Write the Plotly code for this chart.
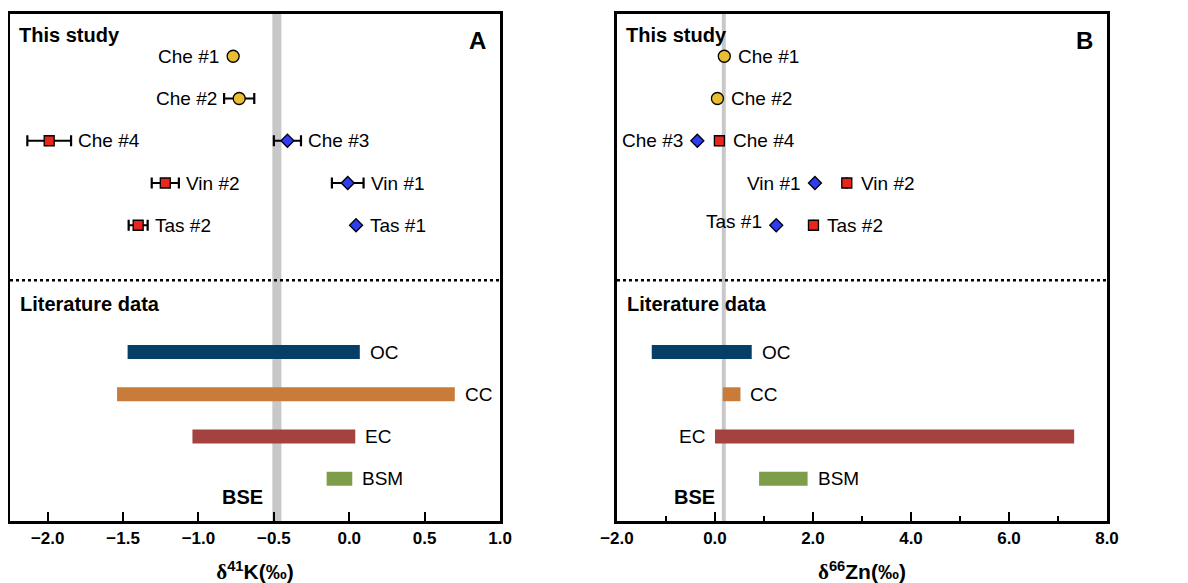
import plotly.graph_objects as go

# ---------------- data ----------------
samples = ["Che #1", "Che #2", "Che #3", "Che #4", "Vin #1", "Vin #2", "Tas #1", "Tas #2"]
sample_rows = [1, 2, 3, 3, 4, 4, 5, 5]
sample_type = ["circle", "circle", "diamond", "square", "diamond", "square", "diamond", "square"]

# delta41K (permil) and 2SD
k_values = [-0.77, -0.73, -0.41, -1.99, -0.01, -1.22, 0.045, -1.40]
k_errors = [0.0, 0.10, 0.09, 0.145, 0.105, 0.09, 0.0, 0.063]
k_label_side = ["left", "left", "right", "right", "right", "right", "right", "right"]

# delta66Zn (permil)
zn_values = [0.19, 0.05, -0.36, 0.09, 2.04, 2.69, 1.25, 2.01]
zn_errors = [0, 0, 0, 0, 0, 0, 0, 0]
zn_label_side = ["right", "right", "left", "right", "left", "right", "left", "right"]

# literature ranges
lit_groups = ["OC", "CC", "EC", "BSM"]
lit_rows = [8, 9, 10, 11]
k_lit_min = [-1.47, -1.54, -1.04, -0.15]
k_lit_max = [0.07, 0.70, 0.04, 0.02]
zn_lit_min = [-1.29, 0.16, 0.00, 0.90]
zn_lit_max = [0.75, 0.52, 7.33, 1.89]
k_lit_label_side = ["right", "right", "right", "right"]
zn_lit_label_side = ["right", "right", "left", "right"]

# bulk silicate Earth
bse_k, bse_k_err = -0.48, 0.03
bse_zn, bse_zn_err = 0.18, 0.04

divider_row = 6.3

# ---------------- style ----------------
FONT = "Liberation Sans, Arial, sans-serif"
marker_style = {
    "circle": dict(symbol="circle", size=12, color="#E9BE33"),
    "diamond": dict(symbol="diamond", size=10, color="#2E3DF0"),
    "square": dict(symbol="square", size=10, color="#E8261C"),
}
lit_colors = ["#053F68", "#C97B3A", "#A3423F", "#7D9D49"]

fig = go.Figure()
annotations = []
shapes = []


def add_panel(xref, yref, values, errors, sides, lmin, lmax, lsides, bse, bse_err, letter,
              bse_shift):
    for typ in ["circle", "diamond", "square"]:
        idx = [i for i, t in enumerate(sample_type) if t == typ]
        ms = marker_style[typ]
        fig.add_trace(go.Scatter(
            x=[values[i] for i in idx],
            y=[sample_rows[i] for i in idx],
            mode="markers",
            marker=dict(symbol=ms["symbol"], size=ms["size"], color=ms["color"],
                        line=dict(color="black", width=1.3)),
            error_x=dict(type="data", array=[errors[i] for i in idx], visible=True,
                         color="black", thickness=2.2, width=5.5),
            xaxis=xref, yaxis=yref, showlegend=False, hoverinfo="x+text",
            text=[samples[i] for i in idx],
        ))
    for i, name in enumerate(samples):
        sgn = 1 if sides[i] == "right" else -1
        gap = 5 if errors[i] > 0 else 12
        yshift = 4 if (letter == "B" and name == "Tas #1") else 0
        annotations.append(dict(
            x=values[i] + sgn * errors[i], y=sample_rows[i],
            xref=xref, yref=yref, text=name, showarrow=False,
            xanchor="left" if sgn > 0 else "right", yanchor="middle",
            xshift=sgn * gap, yshift=yshift,
            font=dict(family=FONT, size=19, color="black"),
        ))
    for j, g in enumerate(lit_groups):
        fig.add_trace(go.Bar(
            x=[lmax[j] - lmin[j]], base=[lmin[j]], y=[lit_rows[j]],
            orientation="h", width=0.33,
            marker=dict(color=lit_colors[j], line=dict(width=0)),
            xaxis=xref, yaxis=yref, showlegend=False, name=g,
        ))
        sgn = 1 if lsides[j] == "right" else -1
        annotations.append(dict(
            x=lmax[j] if sgn > 0 else lmin[j], y=lit_rows[j],
            xref=xref, yref=yref, text=g, showarrow=False,
            xanchor="left" if sgn > 0 else "right", yanchor="middle",
            xshift=sgn * 8,
            font=dict(family=FONT, size=19, color="black"),
        ))
    axis_dom = xref + " domain"
    shapes.append(dict(type="rect", xref=xref, yref=yref + " domain",
                       x0=bse - bse_err, x1=bse + bse_err, y0=0, y1=1,
                       fillcolor="#C8C8C8", line=dict(width=0), layer="below"))
    shapes.append(dict(type="line", xref=axis_dom, yref=yref, x0=0, x1=1,
                       y0=divider_row, y1=divider_row,
                       line=dict(color="black", width=2.5, dash="dot")))
    annotations.append(dict(x=bse, y=11.42, xref=xref, yref=yref, text="<b>BSE</b>",
                            showarrow=False, xanchor="right", yanchor="middle",
                            xshift=bse_shift,
                            font=dict(family=FONT, size=20, color="black")))
    annotations.append(dict(x=0, y=0.5, xref=axis_dom, yref=yref, text="<b>This study</b>",
                            showarrow=False, xanchor="left", yanchor="middle", xshift=7,
                            font=dict(family=FONT, size=20, color="black")))
    annotations.append(dict(x=0, y=6.86, xref=axis_dom, yref=yref,
                            text="<b>Literature data</b>",
                            showarrow=False, xanchor="left", yanchor="middle", xshift=8,
                            font=dict(family=FONT, size=20, color="black")))
    annotations.append(dict(x=1, y=0.62, xref=axis_dom, yref=yref,
                            text="<b>" + letter + "</b>",
                            showarrow=False, xanchor="right", yanchor="middle", xshift=-12,
                            font=dict(family=FONT, size=24, color="black")))


add_panel("x", "y", k_values, k_errors, k_label_side, k_lit_min, k_lit_max,
          k_lit_label_side, bse_k, bse_k_err, "A", -12)
add_panel("x2", "y2", zn_values, zn_errors, zn_label_side, zn_lit_min, zn_lit_max,
          zn_lit_label_side, bse_zn, bse_zn_err, "B", -7)

title_font = dict(family=FONT, size=21, color="black", weight="bold")
common_x = dict(showline=True, linecolor="black", linewidth=2.5, mirror=True,
                ticks="inside", ticklen=9, tickwidth=2, tickcolor="black",
                showgrid=False, zeroline=False, tickformat=".1f", automargin=False,
                tickfont=dict(family=FONT, size=17, color="black", weight="bold"))
common_y = dict(showline=True, linecolor="black", linewidth=2.5, mirror=True,
                showticklabels=False, ticks="", showgrid=False, zeroline=False,
                range=[12, 0], automargin=False)

xa = dict(common_x)
xa.update(domain=[0, 0.4467], range=[-2.25, 1.0], tick0=0, dtick=0.5, anchor="y",
          title=dict(text="<span style='font-family:Liberation Serif'>δ</span><sup>41</sup>K(‰)",
                     standoff=18, font=title_font))
xb = dict(common_x)
xb.update(domain=[0.5533, 1], range=[-2, 8], tick0=0, dtick=2, anchor="y2",
          minor=dict(dtick=1, ticks="inside", ticklen=5, tickwidth=2, tickcolor="black"),
          title=dict(text="<span style='font-family:Liberation Serif'>δ</span><sup>66</sup>Zn(‰)",
                     standoff=18, font=title_font))
ya = dict(common_y)
ya.update(anchor="x")
yb = dict(common_y)
yb.update(anchor="x2")

fig.update_layout(
    width=1188, height=583,
    margin=dict(l=2, r=89, t=6, b=70, autoexpand=False),
    paper_bgcolor="white", plot_bgcolor="white",
    xaxis=xa, xaxis2=xb, yaxis=ya, yaxis2=yb,
    annotations=annotations, shapes=shapes,
    barmode="overlay",
    font=dict(family=FONT, color="black"),
)

fig.write_html("out.html")
